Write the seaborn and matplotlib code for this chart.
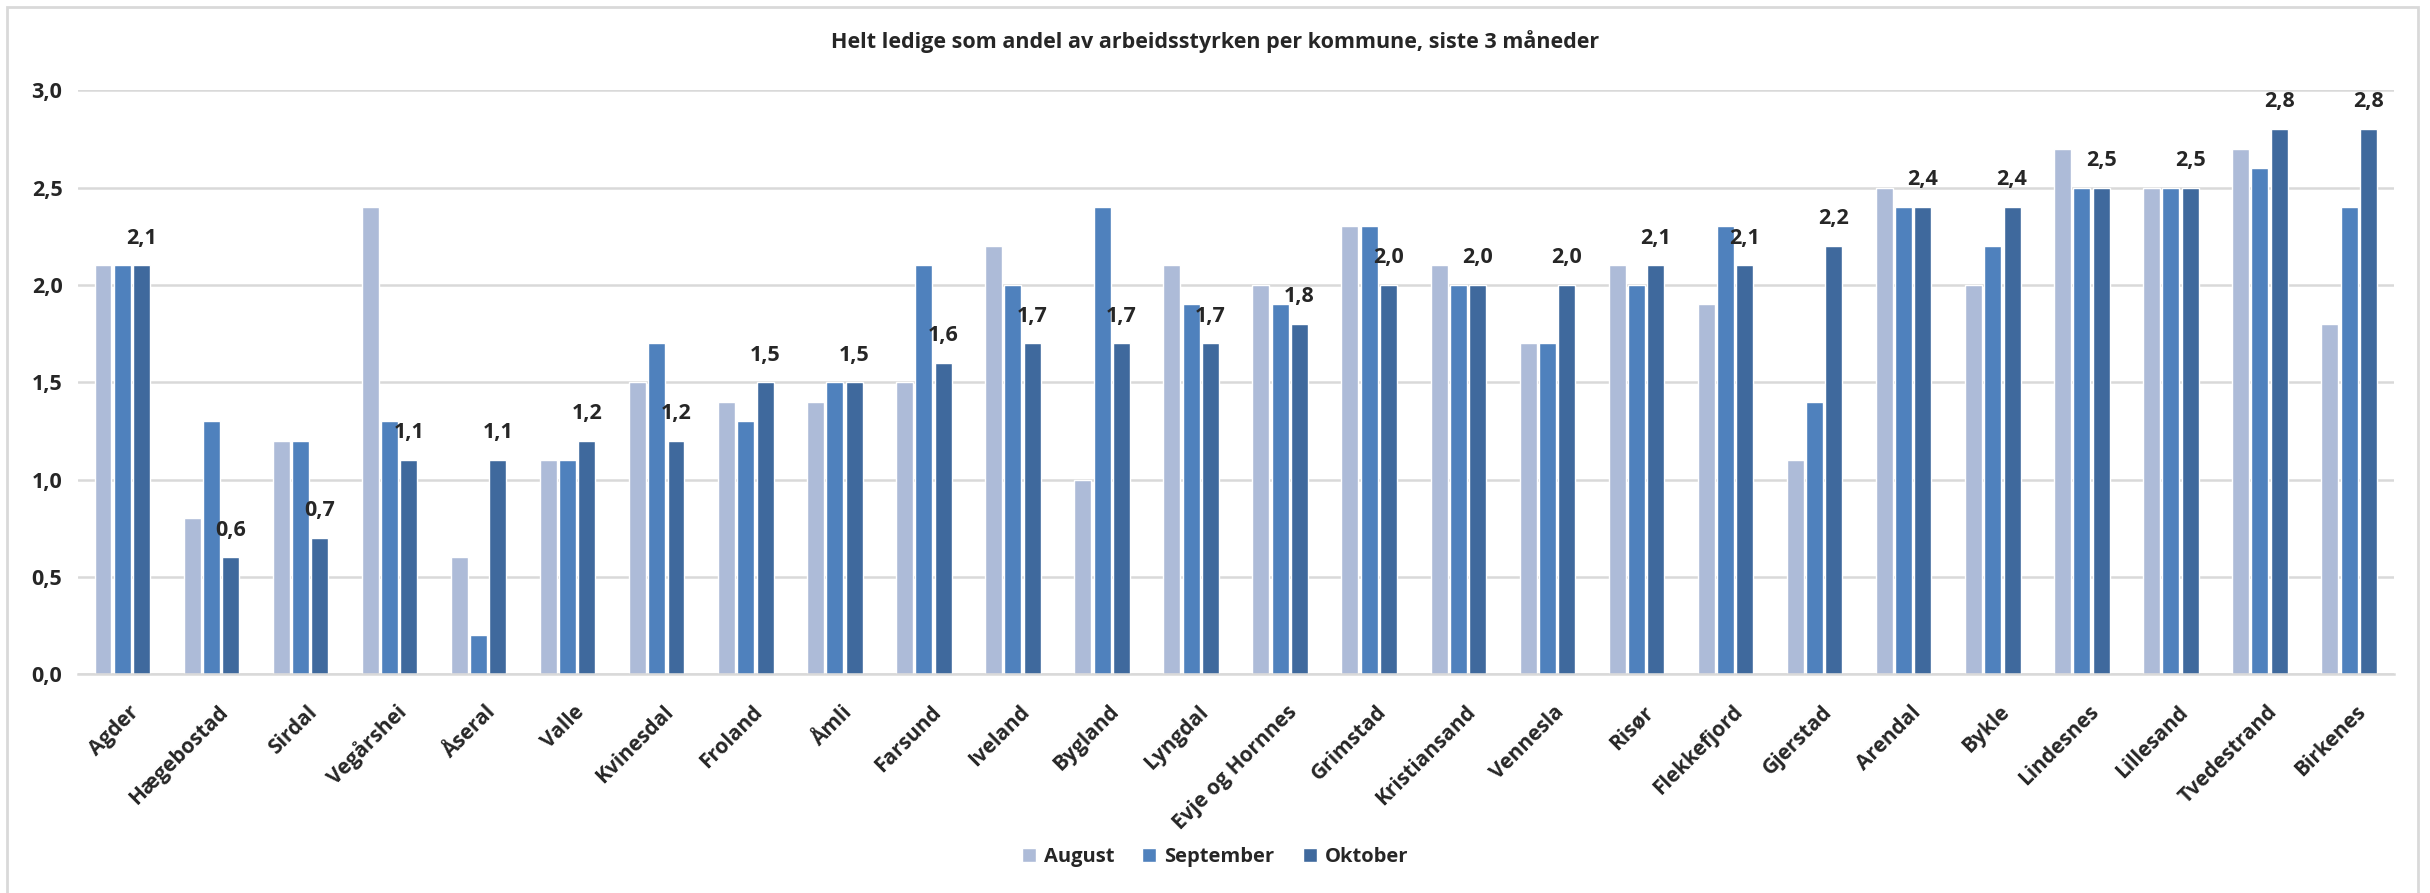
import matplotlib
matplotlib.use("Agg")
import matplotlib.pyplot as plt
from matplotlib.patches import Rectangle
import matplotlib.transforms as mtransforms
import pandas as pd
import seaborn as sns

kommuner = ["Agder", "Hægebostad", "Sirdal", "Vegårshei", "Åseral", "Valle", "Kvinesdal",
            "Froland", "Åmli", "Farsund", "Iveland", "Bygland", "Lyngdal", "Evje og Hornnes",
            "Grimstad", "Kristiansand", "Vennesla", "Risør", "Flekkefjord", "Gjerstad",
            "Arendal", "Bykle", "Lindesnes", "Lillesand", "Tvedestrand", "Birkenes"]
august = [2.1, 0.8, 1.2, 2.4, 0.6, 1.1, 1.5, 1.4, 1.4, 1.5, 2.2, 1.0, 2.1, 2.0,
          2.3, 2.1, 1.7, 2.1, 1.9, 1.1, 2.5, 2.0, 2.7, 2.5, 2.7, 1.8]
september = [2.1, 1.3, 1.2, 1.3, 0.2, 1.1, 1.7, 1.3, 1.5, 2.1, 2.0, 2.4, 1.9, 1.9,
             2.3, 2.0, 1.7, 2.0, 2.3, 1.4, 2.4, 2.2, 2.5, 2.5, 2.6, 2.4]
oktober = [2.1, 0.6, 0.7, 1.1, 1.1, 1.2, 1.2, 1.5, 1.5, 1.6, 1.7, 1.7, 1.7, 1.8,
           2.0, 2.0, 2.0, 2.1, 2.1, 2.2, 2.4, 2.4, 2.5, 2.5, 2.8, 2.8]
maaneder = ["August", "September", "Oktober"]
farger = ["#ADBBD8", "#4F81BD", "#3F699D"]

# long format for seaborn
df = pd.DataFrame({
    "Kommune": kommuner * 3,
    "Måned": [m for m in maaneder for _ in kommuner],
    "Verdi": august + september + oktober,
})

sns.set_style("white")
plt.rcParams["font.family"] = ["Open Sans", "DejaVu Sans"]
plt.rcParams["font.weight"] = "bold"

fig = plt.figure(figsize=(24.3, 8.93), dpi=100)
ax = fig.add_axes([0.032, 0.245, 0.953, 0.654])

sns.barplot(data=df, x="Kommune", y="Verdi", hue="Måned", palette=farger,
            saturation=1, width=0.65, gap=0.12, ax=ax, legend=True)

ax.set_ylim(0, 3.0)
ax.set_xlim(-0.5, len(kommuner) - 0.5)
ax.set_yticks([0, 0.5, 1.0, 1.5, 2.0, 2.5, 3.0])
ax.set_yticklabels([f"{v:.1f}".replace(".", ",") for v in ax.get_yticks()],
                   fontsize=15.5, fontweight="bold")
ax.yaxis.grid(True, color="#D9D9D9", linewidth=1.8)
ax.set_axisbelow(True)
for s in ["top", "right", "left"]:
    ax.spines[s].set_visible(False)
ax.spines["bottom"].set_color("#D9D9D9")
ax.spines["bottom"].set_linewidth(1.8)
ax.tick_params(axis="both", length=0, pad=11)
ax.set_xlabel("")
ax.set_ylabel("")

offset = mtransforms.ScaledTranslation(10 / 72, -14 / 72, fig.dpi_scale_trans)
ax.set_xticks(range(len(kommuner)))
ax.set_xticklabels(kommuner, rotation=45, ha="right", va="center",
                   rotation_mode="anchor", fontsize=15, fontweight="bold")
for lbl in ax.get_xticklabels():
    lbl.set_transform(lbl.get_transform() + offset)

# labels only on Oktober
ax.bar_label(ax.containers[2], labels=[f"{v:.1f}".replace(".", ",") for v in oktober],
             padding=12, fontsize=15.5, fontweight="bold")

ax.legend(loc="center", bbox_to_anchor=(0.5, 0.04), bbox_transform=fig.transFigure,
          ncol=3, frameon=False, handlelength=0.7, handleheight=0.7,
          handletextpad=0.4, columnspacing=1.4, prop={"weight": "bold", "size": 14.5})

fig.suptitle("Helt ledige som andel av arbeidsstyrken per kommune, siste 3 måneder",
             x=0.5, y=1 - 42 / 893, va="center", fontsize=15.5, fontweight="bold")

fig.patches.append(Rectangle((7 / 2430, -0.05), 1 - 19 / 2430, 1.05 - 7 / 893,
                             transform=fig.transFigure, fill=False,
                             edgecolor="#D9D9D9", linewidth=2))

fig.savefig("out.png", dpi=100)
